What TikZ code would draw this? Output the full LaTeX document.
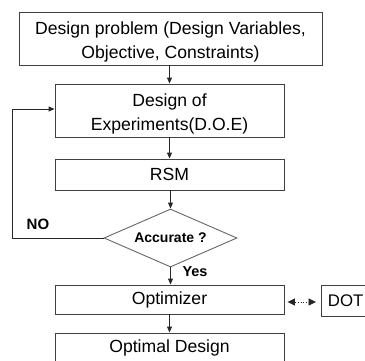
\documentclass[tikz,border=0pt]{standalone}
\usepackage{fontspec}
\setmainfont{Liberation Sans}
\usetikzlibrary{shapes.geometric,arrows.meta}
\newcommand{\twolines}[2]{\raisebox{-3pt}[\height][\depth]{\begin{tabular}{@{}c@{}}#1\\#2\end{tabular}}}
\begin{document}
\begin{tikzpicture}[x=1pt,y=-1pt,
  box/.style={draw=black!75,line width=0.9pt,rectangle,inner sep=0pt,align=center,
    font=\fontsize{17.6}{24}\selectfont,text=black},
  dec/.style={draw=black!60,line width=0.9pt,diamond,inner sep=0pt,aspect=2.3,
    minimum width=133pt,minimum height=58pt,font=\bfseries\fontsize{14}{17}\selectfont},
  lbl/.style={font=\bfseries\fontsize{15}{18}\selectfont,inner sep=0pt},
  conn/.style={draw=black!85,line width=0.9pt,-{Triangle[length=6pt,width=5pt]}},
  both/.style={draw=black!85,line width=0.9pt,dotted,{Triangle[length=7.5pt,width=7pt]}-{Triangle[length=7.5pt,width=7pt]}}
]
\useasboundingbox (0,0) rectangle (365,360);
\node[box,minimum width=303pt,minimum height=53pt] (dp) at (170.5,38.5)
  {\twolines{Design problem (Design Variables,}{Objective, Constraints)}};
\node[box,minimum width=229pt,minimum height=53pt] (doe) at (169.5,110.5)
  {\twolines{Design of}{Experiments(D.O.E)}};
\node[box,minimum width=229pt,minimum height=31pt] (rsm) at (169.5,174.5) {RSM};
\node[dec] (acc) at (170.5,238) {Accurate ?};
\node[box,minimum width=229pt,minimum height=29pt] (opt) at (169.5,299.5) {Optimizer};
\node[box,minimum width=229pt,minimum height=29pt] (od) at (169.5,347.5) {Optimal Design};
\node[box,minimum width=60pt,minimum height=31pt,anchor=west,text width=50pt,align=left,
  font=\fontsize{16.8}{20}\selectfont] (dot) at (321,300.5) {\hspace*{1.5pt}DOT};
\coordinate (c1) at (12,238);
\coordinate (c2) at (12,109);
\draw[conn] (dp.south -| doe.north) -- (doe.north);
\draw[conn] (doe) -- (rsm);
\draw[conn] (rsm.south -| acc.north) -- (acc.north);
\draw[conn] (acc.south) -- (acc.south |- opt.north);
\draw[conn] (opt) -- (od);
\draw[conn] (acc.west) -- (c1) -- (c2) -- (c2 -| doe.west);
\draw[both] ([xshift=3pt]opt.east |- 0,302) -- ([xshift=-5pt]dot.west |- 0,302);
\node[lbl] (no) at (38,224) {NO};
\node[lbl,font=\bfseries\fontsize{14.5}{17}\selectfont] (yes) at (195,272) {Yes};
\end{tikzpicture}
\end{document}
